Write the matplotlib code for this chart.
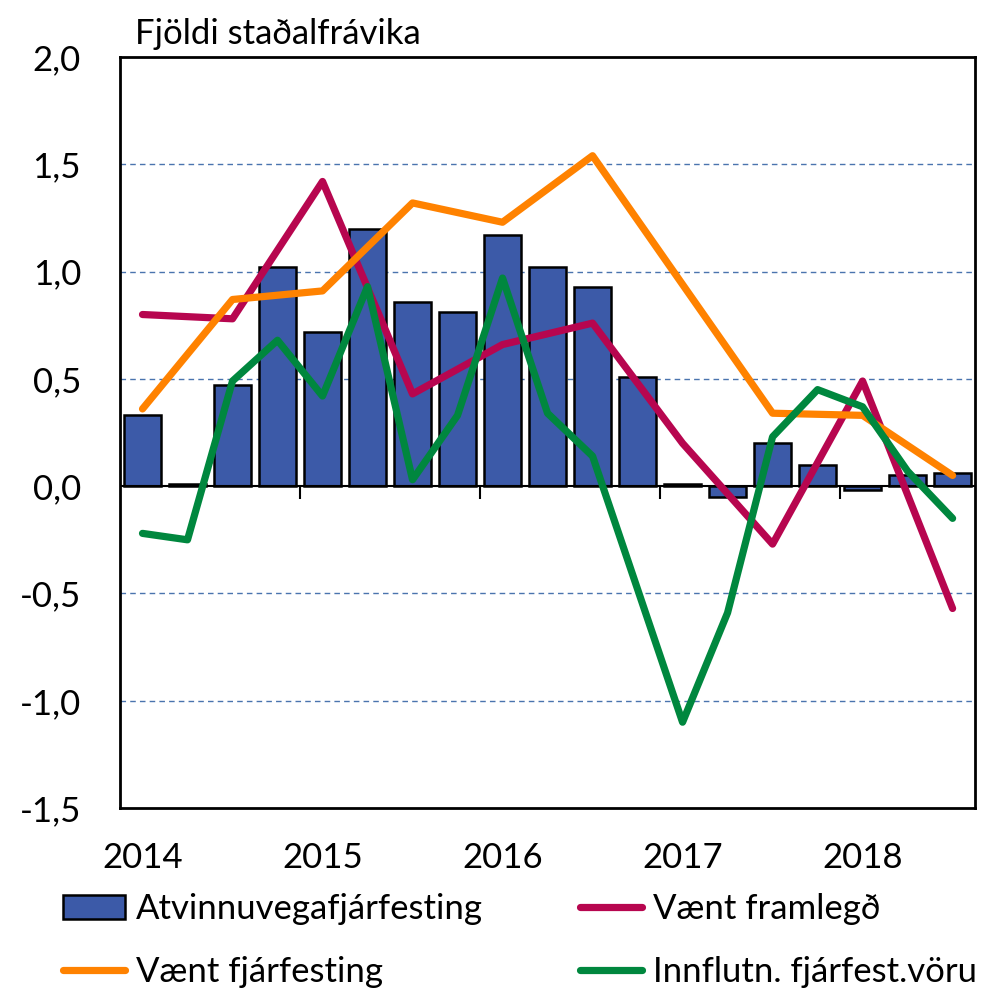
import numpy as np
import matplotlib.pyplot as plt
import matplotlib.transforms as mtransforms

plt.rcParams['font.family'] = ['Lato', 'DejaVu Sans']

# quarterly data 2014Q1 - 2018Q3
years = ['2014', '2015', '2016', '2017', '2018']
atvinnu = [0.33, 0.01, 0.47, 1.02, 0.72, 1.20, 0.86, 0.81, 1.17, 1.02,
           0.93, 0.51, 0.01, -0.05, 0.20, 0.10, -0.02, 0.05, 0.06]
# only half-yearly observations for the survey series
framlegd = [0.80, None, 0.78, None, 1.42, None, 0.43, None, 0.66, None,
            0.76, None, 0.20, None, -0.27, None, 0.49, None, -0.57]
fjarfesting = [0.36, None, 0.87, None, 0.91, None, 1.32, None, 1.23, None,
               1.54, None, None, None, 0.34, None, 0.33, None, 0.05]
innflutn = [-0.22, -0.25, 0.49, 0.68, 0.42, 0.93, 0.03, 0.33, 0.97, 0.34,
            0.14, -0.48, -1.10, -0.59, 0.23, 0.45, 0.37, 0.07, -0.15]

x = np.arange(len(atvinnu))

def valid(series):
    s = np.array(series, dtype=float)
    m = ~np.isnan(s)
    return x[m], s[m]

FS = 25

fig = plt.figure(figsize=(9.95, 9.9), dpi=100)
ax = fig.add_axes([0.1206, 0.1838, 0.8594, 0.7586])

bars = ax.bar(x, atvinnu, width=0.83, color='#3C5AA8', edgecolor='black',
              linewidth=1.8, zorder=2)
l1, = ax.plot(*valid(framlegd), color='#B7064F', lw=5.2, zorder=3,
              solid_capstyle='round')
l2, = ax.plot(*valid(fjarfesting), color='#FF8200', lw=5.2, zorder=3,
              solid_capstyle='round')
l3, = ax.plot(*valid(innflutn), color='#00873E', lw=5.2, zorder=3,
              solid_capstyle='round')

ax.set_xlim(-0.5, len(x) - 0.5)
ax.set_ylim(-1.5, 2.0)
yt = np.arange(-1.5, 2.01, 0.5)
ax.set_yticks(yt)
ax.set_yticklabels([('%.1f' % v).replace('.', ',') for v in yt], fontsize=FS)
ax.tick_params(axis='y', length=0, pad=28)
for v in [-1.0, -0.5, 0.5, 1.0, 1.5]:
    ax.axhline(v, color='#4A74AE', lw=1, ls=(0, (4, 3)), zorder=1)

# zero axis with ticks at year boundaries
ax.axhline(0, color='black', lw=1.5, zorder=2.5)
ax.set_xticks([])
trans = mtransforms.blended_transform_factory(ax.transData, ax.transAxes)
for i, yr in enumerate(years):
    ax.text(4 * i, -0.067, yr, transform=trans, ha='center', va='center',
            fontsize=FS)
bounds = np.arange(3.5, len(x), 4)
ax.vlines(bounds, -0.06, 0, color='black', lw=1.5, zorder=2.5)

for s in ax.spines.values():
    s.set_linewidth(2)
    s.set_zorder(4)

fig.text(0.136, 0.966, 'Fjöldi staðalfrávika', fontsize=FS, ha='left', va='center')

fig.legend(handles=[bars, l2, l1, l3],
           labels=['Atvinnuvegafjárfesting', 'Vænt fjárfesting',
                   'Vænt framlegð', 'Innflutn. fjárfest.vöru'],
           ncol=2, loc='upper left', bbox_to_anchor=(0.063, 0.098),
           frameon=False, fontsize=FS, handlelength=1.8, handletextpad=0.3,
           columnspacing=2.8, labelspacing=0.9, borderaxespad=0,
           borderpad=0)

fig.savefig('out.png', dpi=100)
